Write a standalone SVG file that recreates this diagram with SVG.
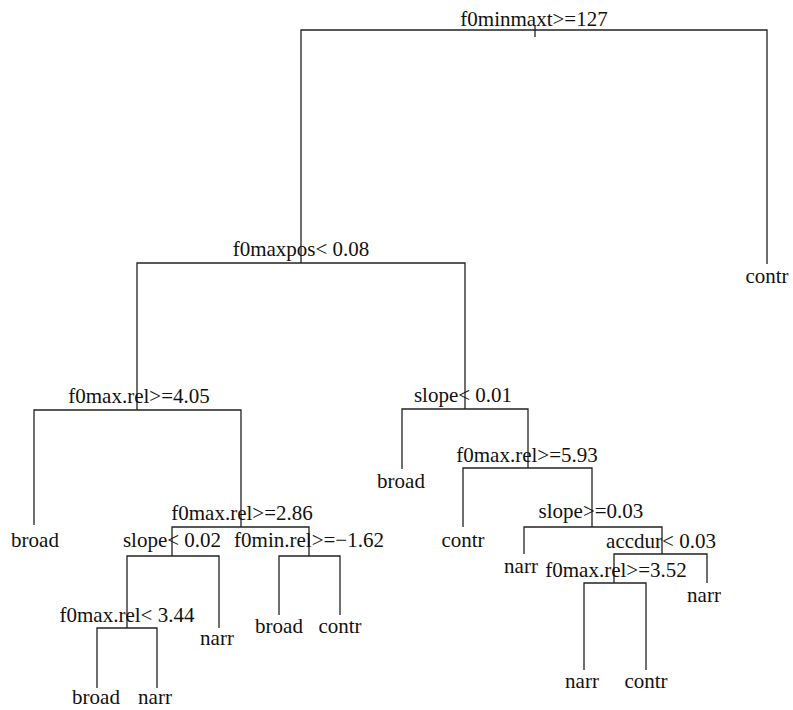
<svg xmlns="http://www.w3.org/2000/svg" width="793" height="710" viewBox="0 0 793 710">
<style>
text{font-family:"Liberation Serif","Times New Roman",serif;font-size:21px;fill:#111;text-anchor:middle}
.e{fill:none;stroke:#222;stroke-width:1.3}
</style>
<rect width="793" height="710" fill="#fff"/>
<g id="connectors">
<path class="e" d="M535,25 V37"/>
<path class="e" d="M535,30 H301 V263"/>
<path class="e" d="M535,30 H767 V264"/>
<path class="e" d="M301,263 H137 V410"/>
<path class="e" d="M301,263 H465 V409"/>
<path class="e" d="M137,410 H34 V525"/>
<path class="e" d="M137,410 H241 V527"/>
<path class="e" d="M241,527 H172 V556"/>
<path class="e" d="M241,527 H309 V556"/>
<path class="e" d="M172,556 H127 V628"/>
<path class="e" d="M172,556 H219 V628"/>
<path class="e" d="M127,628 H97 V688"/>
<path class="e" d="M127,628 H157 V688"/>
<path class="e" d="M309,556 H279 V615"/>
<path class="e" d="M309,556 H340 V615"/>
<path class="e" d="M465,409 H402 V469"/>
<path class="e" d="M465,409 H528 V468"/>
<path class="e" d="M528,468 H463 V527"/>
<path class="e" d="M528,468 H592 V527"/>
<path class="e" d="M592,527 H524 V554"/>
<path class="e" d="M592,527 H662 V554"/>
<path class="e" d="M662,554 H614 V583"/>
<path class="e" d="M662,554 H707 V583"/>
<path class="e" d="M614,583 H584 V670"/>
<path class="e" d="M614,583 H646 V670"/>
</g>
<g id="n1"><text x="534" y="26">f0minmaxt&gt;=127</text></g>
<g id="n2"><text x="301" y="256">f0maxpos&lt; 0.08</text></g>
<g id="n3"><text x="767" y="283">contr</text></g>
<g id="n4"><text x="139" y="403">f0max.rel&gt;=4.05</text></g>
<g id="n5"><text x="463" y="402">slope&lt; 0.01</text></g>
<g id="n8"><text x="35" y="547">broad</text></g>
<g id="n9"><text x="242" y="520">f0max.rel&gt;=2.86</text></g>
<g id="n18"><text x="172" y="547">slope&lt; 0.02</text></g>
<g id="n19"><text x="309" y="547">f0min.rel&gt;=−1.62</text></g>
<g id="n36"><text x="127" y="622">f0max.rel&lt; 3.44</text></g>
<g id="n37"><text x="217" y="645">narr</text></g>
<g id="n72"><text x="96" y="704">broad</text></g>
<g id="n73"><text x="155" y="704">narr</text></g>
<g id="n38"><text x="279" y="633">broad</text></g>
<g id="n39"><text x="340" y="633">contr</text></g>
<g id="n10"><text x="401" y="488">broad</text></g>
<g id="n11"><text x="527" y="462">f0max.rel&gt;=5.93</text></g>
<g id="n22"><text x="463" y="547">contr</text></g>
<g id="n23"><text x="591" y="518">slope&gt;=0.03</text></g>
<g id="n46"><text x="521" y="573">narr</text></g>
<g id="n47"><text x="661" y="548">accdur&lt; 0.03</text></g>
<g id="n94"><text x="616" y="577">f0max.rel&gt;=3.52</text></g>
<g id="n95"><text x="704" y="602">narr</text></g>
<g id="n188"><text x="582" y="688">narr</text></g>
<g id="n189"><text x="646" y="688">contr</text></g>
</svg>
